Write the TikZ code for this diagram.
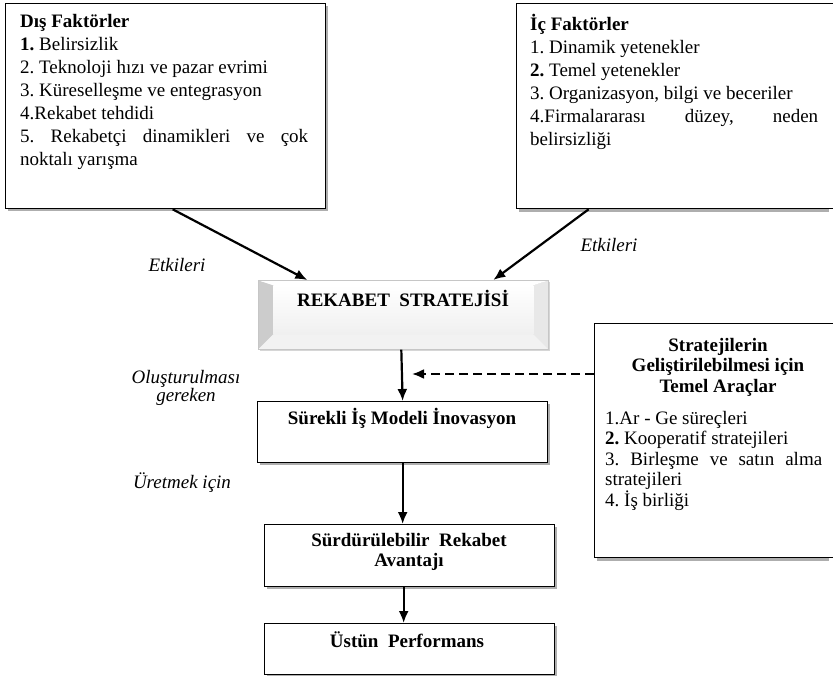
\documentclass[tikz,border=0pt]{standalone}
\usepackage{fontspec}
\setmainfont{Liberation Serif}
\usetikzlibrary{arrows.meta,shadows}

\tikzset{
  openbox/.style={draw, line width=1.3pt, fill=white, anchor=north west, inner sep=0pt},
  fbox/.style={openbox,
    drop shadow={shadow xshift=2.5pt, shadow yshift=-2.5pt, fill=black!70, opacity=0.45}},
  shadowstrip/.style={fill=black!70, opacity=0.45},
  listtext/.style={anchor=north west, inner sep=0pt, align=justify, font=\fontsize{19}{23}\selectfont\frenchspacing},
  boxtitle/.style={font=\bfseries\fontsize{19}{20.5}\selectfont, inner sep=0pt, align=center},
  note/.style={font=\itshape\fontsize{19}{18}\selectfont, inner sep=0pt, align=center},
  arr/.style={line width=2.2pt, -{Latex[length=12pt,width=10pt]}},
  dasharr/.style={arr, dash pattern=on 9pt off 5pt},
  bevelbox/.style={draw=gray!45, line width=0.6pt, anchor=north west, inner sep=0pt,
    drop shadow={shadow xshift=2pt, shadow yshift=-2pt, fill=black!40, opacity=0.4},
    path picture={
      \coordinate (bnw) at (path picture bounding box.north west);
      \coordinate (bse) at (path picture bounding box.south east);
      \coordinate (inw) at ([shift={(15pt,-5pt)}]bnw);
      \coordinate (ise) at ([shift={(-15pt,15pt)}]bse);
      \fill[gray!40] (bnw) -- (inw) -- (inw |- ise) -- (bnw |- bse) -- cycle;
      \fill[gray!18] (bse) -- (ise) -- (ise |- inw) -- (bse |- bnw) -- cycle;
      \fill[white] (bnw) -- (inw) -- (ise |- inw) -- (bse |- bnw) -- cycle;
      \fill[gray!10] (bse) -- (ise) -- (inw |- ise) -- (bnw |- bse) -- cycle;
      \shade[top color=white, bottom color=gray!12] (inw) rectangle (ise);
    }},
}

\begin{document}
\begin{tikzpicture}[x=1pt, y=-1pt]
\useasboundingbox (0,0) rectangle (833,676);

\node[fbox, minimum width=320pt, minimum height=205pt] (dis) at (5,3) {};
\node[listtext, text width=288pt] (distext) at (20,14) {\textbf{Dış Faktörler}\par
\textbf{1.} Belirsizlik\par
2. Teknoloji hızı ve pazar evrimi\par
3. Küreselleşme ve entegrasyon\par
4.Rekabet tehdidi\par
5. Rekabetçi dinamikleri ve çok\linebreak noktalı yarışma};

\node[openbox, minimum width=380pt, minimum height=205pt] (ic) at (516,3) {};
\fill[shadowstrip] ([xshift=2.5pt]ic.south west) rectangle ([yshift=-2.5pt]ic.south west -| 829,0);
\node[listtext, text width=288pt] (ictext) at (530,14) {\textbf{İç Faktörler}\par
1. Dinamik yetenekler\par
\textbf{2.} Temel yetenekler\par
3. Organizasyon, bilgi ve beceriler\par
4.Firmalararası düzey, neden\linebreak belirsizliği};

\node[bevelbox, minimum width=290pt, minimum height=69pt] (rekabet) at (258,280) {};
\node[boxtitle] (rekabettext) at (403,298) {REKABET\ \ STRATEJİSİ};

\node[openbox, minimum width=300pt, minimum height=234pt] (arac) at (594,323) {};
\fill[shadowstrip] ([xshift=2.5pt]arac.south west) rectangle ([yshift=-2.5pt]arac.south west -| 829,0);
\node[boxtitle, anchor=north] (aractitle) at (718,338) {Stratejilerin\\Geliştirilebilmesi için\\Temel Araçlar};
\node[listtext, text width=217pt, font=\fontsize{19}{20.5}\selectfont\frenchspacing] (aractext) at (605,411) {1.Ar - Ge süreçleri\par
\textbf{2.} Kooperatif stratejileri\par
3. Birleşme ve satın alma\linebreak stratejileri\par
4. İş birliği};

\node[fbox, minimum width=290pt, minimum height=61pt] (surekli) at (257,401) {};
\node[boxtitle] (surekIitext) at (402,418) {Sürekli İş Modeli İnovasyon};

\node[fbox, minimum width=290pt, minimum height=62pt] (surdur) at (264,524) {};
\node[boxtitle] (surdurtext) at (409,552) {Sürdürülebilir\ \ Rekabet\\Avantajı};

\node[fbox, minimum width=290pt, minimum height=51pt] (ustun) at (264,623) {};
\node[boxtitle] (ustuntext) at (407,640) {Üstün\ \ Performans};

\node[note] (etki1) at (177,265) {Etkileri};
\node[note] (etki2) at (609,245) {Etkileri};
\node[note] (olus) at (186,388) {Oluşturulması\\gereken};
\node[note] (uret) at (182,483) {Üretmek için};

\coordinate (dashend) at (412,374);
\draw[arr] ([xshift=7pt]dis.south) -- ([xshift=-96pt]rekabet.north);
\draw[arr] ([xshift=-118pt]ic.south) -- ([xshift=90pt]rekabet.north);
\draw[arr] ([xshift=-2pt]rekabet.south) -- (surekli.north);
\draw[arr] (surekli.south) -- (surekli.south |- surdur.north);
\draw[arr] ([xshift=-6pt]surdur.south) -- ([xshift=-6pt]ustun.north);
\draw[dasharr] (arac.west |- dashend) -- (dashend);
\end{tikzpicture}
\end{document}
